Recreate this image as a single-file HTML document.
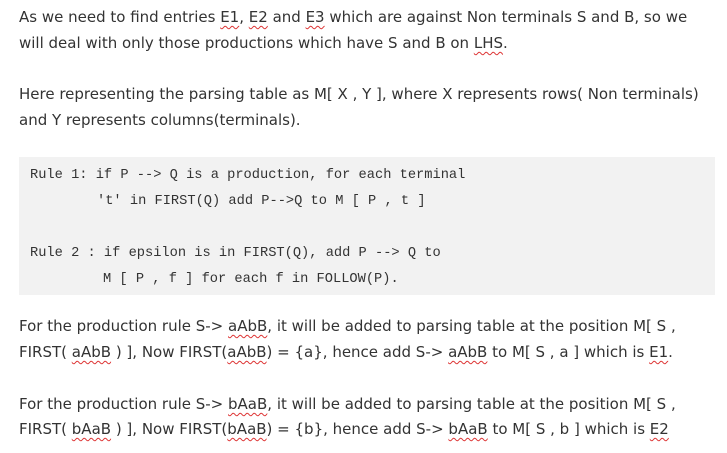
<!DOCTYPE html>
<html><head><meta charset="utf-8"><style>
body{margin:0;width:727px;height:453px;background:#fff;position:relative;overflow:hidden;font-family:"DejaVu Sans","Liberation Sans",sans-serif;font-size:15px;color:#333}
.l{position:absolute;left:19px;white-space:nowrap;line-height:20px}
.c{position:absolute;white-space:nowrap;font-family:"Liberation Mono",monospace;font-size:13.7px;line-height:18px;color:#333}
.u{text-decoration:underline wavy #d33;text-decoration-thickness:1px;text-underline-offset:3px}
.box{position:absolute;left:19px;top:157px;width:696px;height:138px;background:#f2f2f2}
</style></head><body>
<div class="l" style="top:7px">As we need to find entries <span class="u">E1</span>, <span class="u">E2</span> and <span class="u">E3</span> which are against Non terminals S and B, so we</div>
<div class="l" style="top:33px">will deal with only those productions which have S and B on <span class="u">LHS</span>.</div>
<div class="l" style="top:84px">Here representing the parsing table as M[ X , Y ], where X represents rows( Non terminals)</div>
<div class="l" style="top:110px">and Y represents columns(terminals).</div>
<div class="box"></div>
<div class="c" style="left:30px;top:167px">Rule 1: if P --&gt; Q is a production, for each terminal</div>
<div class="c" style="left:97px;top:193px">'t' in FIRST(Q) add P--&gt;Q to M [ P , t ]</div>
<div class="c" style="left:30px;top:245px">Rule 2 : if epsilon is in FIRST(Q), add P --&gt; Q to</div>
<div class="c" style="left:103px;top:271px">M [ P , f ] for each f in FOLLOW(P).</div>
<div class="l" style="top:316px">For the production rule S-&gt; <span class="u">aAbB</span>, it will be added to parsing table at the position M[ S ,</div>
<div class="l" style="top:342px">FIRST( <span class="u">aAbB</span> ) ], Now FIRST(<span class="u">aAbB</span>) = {a}, hence add S-&gt; <span class="u">aAbB</span> to M[ S , a ] which is <span class="u">E1</span>.</div>
<div class="l" style="top:394px">For the production rule S-&gt; <span class="u">bAaB</span>, it will be added to parsing table at the position M[ S ,</div>
<div class="l" style="top:419px">FIRST( <span class="u">bAaB</span> ) ], Now FIRST(<span class="u">bAaB</span>) = {b}, hence add S-&gt; <span class="u">bAaB</span> to M[ S , b ] which is <span class="u">E2</span></div>
</body></html>
